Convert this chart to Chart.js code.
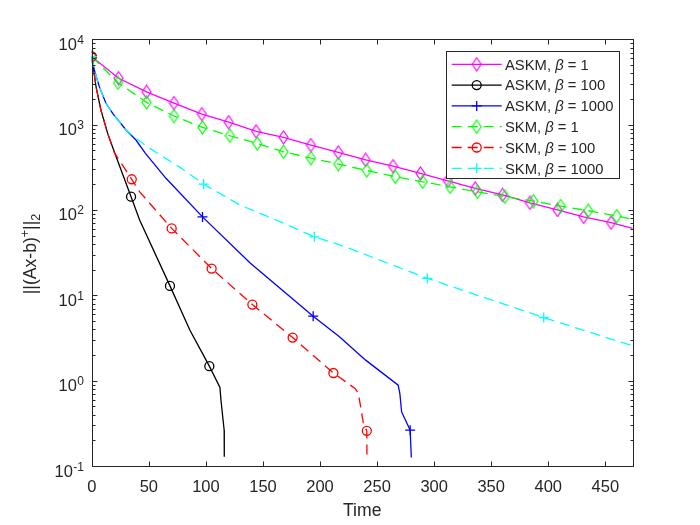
<!DOCTYPE html>
<html>
<head>
<meta charset="utf-8">
<script src="https://cdn.jsdelivr.net/npm/chart.js@4.4.0/dist/chart.umd.min.js"></script>
<style>
  html, body { margin: 0; padding: 0; background: #fff; }
</style>
</head>
<body>
<canvas id="chart1" width="700" height="525"></canvas>
<script>
"use strict";

// ASKM, beta = 1
var askm1T = [0, 23.5, 48, 72, 96.5, 120, 144, 168, 192, 216, 240, 264, 288, 312, 336, 360, 384, 408, 431, 455, 474];
var askm1Y = [6250, 3500, 2420, 1790, 1330, 1070, 835, 710, 577, 473, 386, 327, 268, 220, 179, 150, 121, 100, 83, 71, 61];
var askm1Marks = [0, 1, 2, 3, 4, 5, 6, 7, 8, 9, 10, 11, 12, 13, 14, 15, 16, 17, 18, 19];

// ASKM, beta = 100
var askm100T = [0, 3.7, 8, 13.9, 19.7, 34.4, 42, 68.5, 86, 103, 112.3, 113.2, 116, 116.1];
var askm100Y = [6250, 2780, 1480, 790, 480, 143, 76, 12.9, 3.9, 1.48, 0.834, 0.59, 0.263, 0.128];
var askm100Marks = [0, 5, 7, 9];

// ASKM, beta = 1000
var askm1000T = [0, 2.2, 6.6, 12.4, 18.3, 30, 38.7, 47, 65, 97, 139, 194, 217, 240, 268.5, 270, 271.5, 279, 280];
var askm1000Y = [6250, 4370, 2780, 1780, 1355, 865, 660, 461, 235, 83, 23.7, 5.7, 3.26, 1.74, 0.885, 0.7, 0.43, 0.263, 0.126];
var askm1000Marks = [0, 9, 11, 17];

// SKM, beta = 1
var skm1T = [0, 23, 48, 72, 97, 121, 145, 168, 192, 216, 241, 266, 290, 314, 338, 362, 387, 411, 435, 460, 474];
var skm1Y = [6250, 3100, 1825, 1262, 929, 741, 600, 481, 405, 345, 290, 245, 214, 187, 163, 143, 127, 111, 98, 85, 78];
var skm1Marks = [0, 1, 2, 3, 4, 5, 6, 7, 8, 9, 10, 11, 12, 13, 14, 15, 16, 17, 18, 19];

// SKM, beta = 100
var skm100T = [0, 3.7, 8, 13.9, 19.7, 35, 42, 70, 105, 140.7, 176, 211.7, 230.7, 233.6, 238, 241, 241.1];
var skm100Y = [6250, 2780, 1480, 790, 470, 229, 163, 60.8, 20.6, 7.8, 3.2, 1.23, 0.81, 0.71, 0.315, 0.258, 0.134];
var skm100Marks = [0, 5, 7, 8, 9, 10, 11, 15];

// SKM, beta = 1000
var skm1000T = [0, 2.2, 6.6, 12.4, 18.3, 30, 38.7, 47, 65, 77, 98, 130, 165, 195, 218, 294, 396, 474];
var skm1000Y = [6250, 4370, 2780, 1780, 1355, 865, 690, 570, 400, 318, 201, 114, 73, 48.5, 38.8, 15.8, 5.5, 2.55];
var skm1000Marks = [0, 10, 13, 15, 16];

var methodNames = ['ASKM', 'ASKM', 'ASKM', 'SKM', 'SKM', 'SKM'];
var betaValues = ['1', '100', '1000', '1', '100', '1000'];

var xTicks = [0, 50, 100, 150, 200, 250, 300, 350, 400, 450];
var yExponents = [-1, 0, 1, 2, 3, 4];

var axisColor = '#262626';
var fontFamily = "'Liberation Sans', Arial, Helvetica, sans-serif";

function toPoints(ts, ys) {
  var pts = [];
  for (var i = 0; i < ts.length; i++) {
    pts.push({ x: ts[i], y: ys[i] });
  }
  return pts;
}

function makeDiamond(color) {
  var cv = document.createElement('canvas');
  cv.width = 11;
  cv.height = 15;
  var c = cv.getContext('2d');
  c.strokeStyle = color;
  c.lineWidth = 1.2;
  c.beginPath();
  c.moveTo(5.5, 1);
  c.lineTo(10, 7.5);
  c.lineTo(5.5, 14);
  c.lineTo(1, 7.5);
  c.closePath();
  c.stroke();
  return cv;
}

function makeSeries(idx, ts, ys, marks, color, dashed, marker) {
  var style = marker === 'diamond' ? makeDiamond(color) : marker;
  var size = marker === 'circle' ? 4.5 : (marker === 'cross' ? 5 : 6);
  return {
    label: methodNames[idx] + ', β = ' + betaValues[idx],
    data: toPoints(ts, ys),
    borderColor: color,
    borderWidth: 1.3,
    borderDash: dashed ? [10, 6] : [],
    pointStyle: style,
    pointBorderColor: color,
    pointBackgroundColor: 'rgba(0,0,0,0)',
    pointBorderWidth: 1.3,
    pointRadius: function (ctx) {
      return marks.indexOf(ctx.dataIndex) >= 0 ? size : 0;
    },
    pointHoverRadius: 0,
    tension: 0,
    fill: false,
    order: 6 - idx,
    markerSize: size
  };
}

var datasets = [
  makeSeries(0, askm1T, askm1Y, askm1Marks, '#FF00FF', false, 'diamond'),
  makeSeries(1, askm100T, askm100Y, askm100Marks, '#000000', false, 'circle'),
  makeSeries(2, askm1000T, askm1000Y, askm1000Marks, '#0000FF', false, 'cross'),
  makeSeries(3, skm1T, skm1Y, skm1Marks, '#00FF00', true, 'diamond'),
  makeSeries(4, skm100T, skm100Y, skm100Marks, '#FF0000', true, 'circle'),
  makeSeries(5, skm1000T, skm1000Y, skm1000Marks, '#00FFFF', true, 'cross')
];

function hline(c, x1, y1, x2, y2) {
  c.beginPath();
  c.moveTo(x1, y1);
  c.lineTo(x2, y2);
  c.stroke();
}

// axes box, inward ticks, y labels, y title and legend, MATLAB style
var frame = {
  id: 'frame',
  afterDatasetsDraw: function (chart) {
    var c = chart.ctx;
    var a = chart.chartArea;
    var xs = chart.scales.x;
    var ys = chart.scales.y;
    var L = Math.round(a.left) + 0.5, R = Math.round(a.right) + 0.5;
    var T = Math.round(a.top) + 0.5, B = Math.round(a.bottom) + 0.5;
    c.save();
    c.strokeStyle = axisColor;
    c.lineWidth = 1;
    c.setLineDash([]);
    c.strokeRect(L, T, R - L, B - T);

    xTicks.forEach(function (v) {
      var px = Math.round(xs.getPixelForValue(v)) + 0.5;
      hline(c, px, B, px, B - 5);
      hline(c, px, T, px, T + 5);
    });

    for (var k = -1; k <= 4; k++) {
      for (var m = 1; m <= 9; m++) {
        var v = m * Math.pow(10, k);
        if (v > 10000) break;
        var py = Math.round(ys.getPixelForValue(v)) + 0.5;
        var len = m === 1 ? 5 : 3;
        hline(c, L, py, L + len, py);
        hline(c, R, py, R - len, py);
      }
    }

    // y tick labels 10^k
    c.fillStyle = axisColor;
    c.textBaseline = 'alphabetic';
    yExponents.forEach(function (k) {
      var py = ys.getPixelForValue(Math.pow(10, k));
      var ex = String(k);
      c.font = '12px ' + fontFamily;
      c.textAlign = 'right';
      c.fillText(ex, 84, py + 4.5);
      var w = c.measureText(ex).width;
      c.font = '16.5px ' + fontFamily;
      c.fillText('10', 84 - w - 0.5, py + 10.5);
    });

    // y title ||(Ax-b)^+||_2
    c.save();
    c.translate(36, 254);
    c.rotate(-Math.PI / 2);
    c.textAlign = 'left';
    var parts = [
      { t: '||(Ax-b)', f: '17.6px ', dy: 0 },
      { t: '+', f: '12.5px ', dy: -7 },
      { t: '||', f: '17.6px ', dy: 0 },
      { t: '2', f: '12.5px ', dy: 4 }
    ];
    var total = 0;
    parts.forEach(function (p) {
      c.font = p.f + fontFamily;
      p.w = c.measureText(p.t).width;
      total += p.w;
    });
    var u = -total / 2;
    parts.forEach(function (p) {
      c.font = p.f + fontFamily;
      c.fillText(p.t, u, p.dy);
      u += p.w;
    });
    c.restore();

    // legend
    var lx = 446.5, ly = 51.5, lw = 173, lh = 127;
    c.fillStyle = '#ffffff';
    c.fillRect(lx, ly, lw, lh);
    c.strokeStyle = axisColor;
    c.strokeRect(lx, ly, lw, lh);
    chart.data.datasets.forEach(function (ds, i) {
      var y = 64.3 + i * 20.8;
      c.strokeStyle = ds.borderColor;
      c.lineWidth = ds.borderWidth;
      c.setLineDash(ds.borderDash);
      hline(c, 451.7, y, 501.7, y);
      c.setLineDash([]);
      c.fillStyle = 'rgba(0,0,0,0)';
      Chart.helpers.drawPoint(c, {
        pointStyle: ds.pointStyle,
        radius: ds.markerSize,
        borderWidth: ds.pointBorderWidth,
        rotation: 0
      }, 476.7, y);
      c.fillStyle = axisColor;
      c.textAlign = 'left';
      var tx = 505, by = y + 5.2;
      c.font = '14.8px ' + fontFamily;
      var s1 = methodNames[i] + ', ';
      c.fillText(s1, tx, by);
      tx += c.measureText(s1).width;
      c.font = 'italic 14.8px ' + fontFamily;
      c.fillText('β', tx, by);
      tx += c.measureText('β').width;
      c.font = '14.8px ' + fontFamily;
      c.fillText(' = ' + betaValues[i], tx, by);
    });
    c.restore();
  }
};

var ctx = document.getElementById('chart1').getContext('2d');
new Chart(ctx, {
  type: 'line',
  data: { datasets: datasets },
  options: {
    responsive: false,
    animation: false,
    devicePixelRatio: 1,
    layout: { padding: { left: 0, right: 67.3, top: 39.3, bottom: 0 } },
    plugins: {
      legend: { display: false },
      tooltip: { enabled: false }
    },
    scales: {
      x: {
        type: 'linear',
        min: 0,
        max: 474,
        afterFit: function (s) { s.height = 59; },
        grid: { display: false, drawTicks: false },
        border: { display: false },
        ticks: {
          stepSize: 50,
          includeBounds: false,
          autoSkip: false,
          maxRotation: 0,
          padding: 12,
          color: axisColor,
          font: { family: fontFamily, size: 16.5 }
        },
        title: {
          display: true,
          text: 'Time',
          color: axisColor,
          font: { family: fontFamily, size: 17.6 },
          padding: { top: 0, bottom: 3 }
        }
      },
      y: {
        type: 'logarithmic',
        min: 0.1,
        max: 10000,
        afterFit: function (s) { s.width = 91.8; },
        grid: { display: false, drawTicks: false },
        border: { display: false },
        ticks: { display: false }
      }
    }
  },
  plugins: [frame]
});
</script>
</body>
</html>
